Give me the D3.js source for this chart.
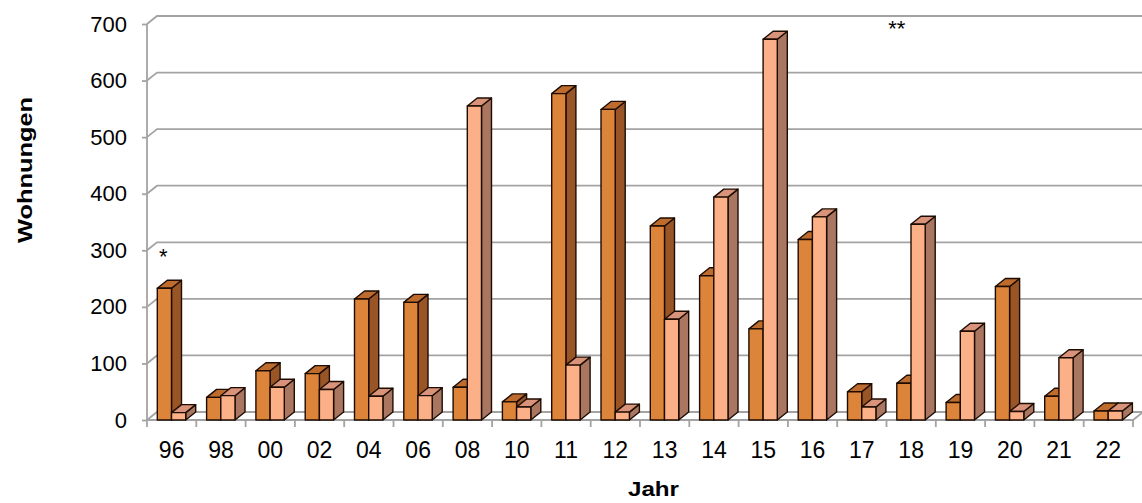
<!DOCTYPE html>
<html>
<head>
<meta charset="utf-8">
<script src="https://cdn.jsdelivr.net/npm/d3@7"></script>
<style>
  html, body { margin: 0; padding: 0; background: #fff; }
  svg { display: block; font-family: "Liberation Sans", Arial, sans-serif; }
</style>
</head>
<body>
<svg id="chart" width="1142" height="503"></svg>
<script>
// ---- data ----
const categories = ["96","98","00","02","04","06","08","10","11","12","13","14","15","16","17","18","19","20","21","22"];
const seriesDark  = [233, 40, 87, 82, 214, 208, 58, 32, 577, 549, 343, 255, 161, 319, 50, 65, 31, 236, 42, 16];
const seriesLight = [13, 43, 58, 54, 42, 43, 555, 23, 97, 14, 178, 394, 673, 359, 23, 346, 157, 15, 110, 16];
const yTicks = [0, 100, 200, 300, 400, 500, 600, 700];
const yTitle = "Wohnungen";
const xTitle = "Jahr";
const noteCats = ["96", "18"];
const noteValues = [300, 704];
const noteTexts = ["*", "**"];

// ---- layout ----
const svg = d3.select("#chart");
const plotLeft = 147, plotRight = 1133, plotBottom = 420, plotTop = 24;
const depthX = 10, depthY = 8;
const noteBandFrac = [0.33, 0.21];

const x = d3.scaleBand().domain(categories).range([plotLeft, plotRight]).paddingInner(0).paddingOuter(0);
const y = d3.scaleLinear().domain([0, 700]).range([plotBottom, plotTop]);

const gridColor = "#a3a3a3";

// back wall gridlines + left wall diagonals
const grid = svg.append("g");
yTicks.forEach(v => {
  const yy = y(v);
  grid.append("path")
    .attr("d", `M${plotLeft},${yy} L${plotLeft + depthX},${yy - depthY} L${1142},${yy - depthY}`)
    .attr("fill", "none").attr("stroke", gridColor).attr("stroke-width", 1.8);
});
// floor front edge + right diagonal
grid.append("path")
  .attr("d", `M${plotLeft},${plotBottom} L${plotRight},${plotBottom} L${plotRight + depthX},${plotBottom - depthY}`)
  .attr("fill", "none").attr("stroke", gridColor).attr("stroke-width", 1.8);

// y axis
const yAxis = svg.append("g").attr("transform", `translate(${plotLeft},0)`)
  .call(d3.axisLeft(y).tickValues(yTicks).tickSize(5).tickSizeOuter(0).tickPadding(15));
yAxis.select(".domain").attr("stroke", gridColor).attr("stroke-width", 1.8)
  .attr("d", `M0,${plotTop}V${plotBottom}`);
yAxis.selectAll(".tick line").attr("stroke", gridColor).attr("stroke-width", 1.8);
yAxis.selectAll(".tick text").attr("font-size", 22).attr("fill", "#000")
  .attr("font-family", "Liberation Sans, Arial, sans-serif");

// x axis labels
const xAxis = svg.append("g").attr("transform", `translate(0,${plotBottom})`)
  .call(d3.axisBottom(x).tickSize(0).tickPadding(22));
xAxis.select(".domain").remove();
xAxis.selectAll(".tick text").attr("font-size", 23).attr("fill", "#000")
  .attr("font-family", "Liberation Sans, Arial, sans-serif");
// boundary ticks
const bounds = categories.map(c => x(c)).concat([plotRight]);
svg.append("g").selectAll("line").data(bounds).join("line")
  .attr("x1", d => d).attr("x2", d => d)
  .attr("y1", plotBottom).attr("y2", plotBottom + 7)
  .attr("stroke", gridColor).attr("stroke-width", 1.8);

// ---- 3D bars ----
const styles = [
  {front: "#dc8439", side: "#9a5526", top: "#bd6c2e"},
  {front: "#fcb087", side: "#a97662", top: "#d8937a"}
];
const outline = "#1e0c02";
const bw = x.bandwidth();
const offset = bw * 0.209, barW = bw * 0.288;

const bars = svg.append("g");
categories.forEach((c, i) => {
  [seriesDark[i], seriesLight[i]].forEach((v, s) => {
    const x0 = x(c) + offset + s * barW;
    const x1 = x0 + barW;
    const y0 = y(0), y1 = y(v);
    const st = styles[s];
    const g = bars.append("g").attr("stroke", outline).attr("stroke-width", 1.4).attr("stroke-linejoin", "round");
    g.append("path").attr("fill", st.side)
      .attr("d", `M${x1},${y0} L${x1 + depthX},${y0 - depthY} L${x1 + depthX},${y1 - depthY} L${x1},${y1} Z`);
    g.append("path").attr("fill", st.top)
      .attr("d", `M${x0},${y1} L${x0 + depthX},${y1 - depthY} L${x1 + depthX},${y1 - depthY} L${x1},${y1} Z`);
    g.append("rect").attr("fill", st.front)
      .attr("x", x0).attr("y", y1).attr("width", barW).attr("height", y0 - y1);
  });
});

// notes (asterisks)
noteCats.forEach((c, i) => {
  svg.append("text")
    .attr("x", x(c) + bw * noteBandFrac[i])
    .attr("y", y(noteValues[i]) + 14)
    .attr("text-anchor", "middle")
    .attr("font-size", 22)
    .text(noteTexts[i]);
});

// titles
svg.append("text")
  .attr("transform", `translate(32,170) rotate(-90)`)
  .attr("text-anchor", "middle")
  .attr("font-size", 21).attr("font-weight", "bold")
  .attr("textLength", 146).attr("lengthAdjust", "spacingAndGlyphs")
  .text(yTitle);
svg.append("text")
  .attr("x", 653.5).attr("y", 496)
  .attr("text-anchor", "middle")
  .attr("font-size", 21).attr("font-weight", "bold")
  .attr("textLength", 51).attr("lengthAdjust", "spacingAndGlyphs")
  .text(xTitle);
</script>
</body>
</html>
